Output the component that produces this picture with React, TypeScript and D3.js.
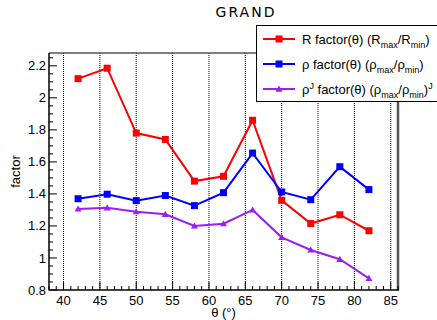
import React from "react";
import * as d3 from "d3";

// Scan angle (degrees) and the three factor series
const theta = [42, 46, 50, 54, 58, 62, 66, 70, 74, 78, 82];
const rFactor = [2.12, 2.185, 1.78, 1.74, 1.48, 1.51, 1.86, 1.36, 1.215, 1.27, 1.17];
const rhoFactor = [1.37, 1.398, 1.358, 1.39, 1.327, 1.408, 1.655, 1.412, 1.364, 1.57, 1.427];
const rhoJFactor = [1.306, 1.313, 1.289, 1.273, 1.2, 1.214, 1.3, 1.129, 1.05, 0.992, 0.873];

const xTicks = [40, 45, 50, 55, 60, 65, 70, 75, 80, 85];
const yTicks = [0.8, 1, 1.2, 1.4, 1.6, 1.8, 2, 2.2];

// Legend labels as [text, level] runs: 0 normal, -1 subscript, 1 superscript
const legendLabels: [string, number][][] = [
  [["R factor(θ) (R", 0], ["max", -1], ["/R", 0], ["min", -1], [")", 0]],
  [["ρ factor(θ) (ρ", 0], ["max", -1], ["/ρ", 0], ["min", -1], [")", 0]],
  [["ρ", 0], ["J", 1], [" factor(θ) (ρ", 0], ["max", -1], ["/ρ", 0], ["min", -1], [")", 0], ["J", 1]],
];

const W = 437;
const H = 320;
const frame = { left: 49, right: 398, top: 53, bottom: 290 };

const RED = "#ff0000";
const BLUE = "#0000ff";
const VIOLET = "#9a1ff5";
const FONT = "'Liberation Sans', Arial, sans-serif";

function RichText({ runs, x, y }: { runs: [string, number][]; x: number; y: number }) {
  let level = 0;
  return (
    <text x={x} y={y} fontSize={13} fill="#000">
      {runs.map(([t, lv], i) => {
        const off = (l: number) => (l === -1 ? 4 : l === 1 ? -5 : 0);
        const dy = off(lv) - off(level);
        level = lv;
        return (
          <tspan key={i} dy={dy} fontSize={lv === 0 ? 13 : 9}>
            {t}
          </tspan>
        );
      })}
    </text>
  );
}

export default function App() {
  const x = d3.scaleLinear().domain([38, 86]).range([frame.left, frame.right]);
  const y = d3.scaleLinear().domain([0.8, 2.28]).range([frame.bottom, frame.top]);

  const xMinor = d3.range(38, 87, 1).filter((v) => v % 5 !== 0);
  const yMinor = d3.range(0.8, 2.28, 0.05).filter((v) => Math.abs(Math.round(v * 5) - v * 5) > 1e-6);

  const line = d3
    .line<number>()
    .x((_, i) => x(theta[i]))
    .y((d) => y(d));

  const series = [
    { values: rFactor, color: RED, marker: "square" },
    { values: rhoFactor, color: BLUE, marker: "square" },
    { values: rhoJFactor, color: VIOLET, marker: "triangle" },
  ];

  const marker = (kind: string, cx: number, cy: number, color: string, key: string) => {
    if (kind === "square") {
      return <rect key={key} x={cx - 3.5} y={cy - 3.5} width={7} height={7} fill={color} />;
    }
    const s = 3.5;
    return (
      <path
        key={key}
        d={`M${cx},${cy - s} L${cx + s},${cy + s * 0.75} L${cx - s},${cy + s * 0.75} Z`}
        fill={color}
      />
    );
  };

  const legendRows = [
    { color: RED, marker: "square", y: 39 },
    { color: BLUE, marker: "square", y: 64 },
    { color: VIOLET, marker: "triangle", y: 89 },
  ];

  return (
    <svg
      width={W}
      height={H}
      style={{ position: "absolute", left: 0, top: 0, background: "#fff" }}
      fontFamily={FONT}
    >
      <rect x={0} y={0} width={W} height={H} fill="#fff" />

      {/* title */}
      <text
        x={246}
        y={17}
        textAnchor="middle"
        fontFamily="'DejaVu Sans', sans-serif"
        fontSize={14}
        letterSpacing={2}
        fill="#000"
      >
        GRAND
      </text>

      {/* vertical grid */}
      {xTicks.map((t) => (
        <line
          key={`g${t}`}
          x1={x(t)}
          x2={x(t)}
          y1={frame.top}
          y2={frame.bottom}
          stroke="#000"
          strokeWidth={1}
          strokeDasharray="1,1"
        />
      ))}

      {/* frame */}
      <line x1={frame.left} x2={frame.right} y1={frame.top} y2={frame.top} stroke="#555" strokeWidth={1.5} />
      <line x1={frame.right} x2={frame.right} y1={frame.top} y2={frame.bottom} stroke="#555" strokeWidth={2.5} />
      <line x1={frame.left} x2={frame.left} y1={frame.top} y2={frame.bottom + 0.5} stroke="#000" strokeWidth={1.5} />
      <line x1={frame.left} x2={frame.right + 1} y1={frame.bottom} y2={frame.bottom} stroke="#000" strokeWidth={1.5} />

      {/* y ticks */}
      {yTicks.map((t) => (
        <g key={`y${t}`}>
          <line x1={frame.left} x2={frame.left + 8} y1={y(t)} y2={y(t)} stroke="#000" strokeWidth={1} />
          <text x={46} y={y(t)} dy="0.35em" textAnchor="end" fontSize={13} fill="#000">
            {t}
          </text>
        </g>
      ))}
      {yMinor.map((t) => (
        <line key={`ym${t}`} x1={frame.left} x2={frame.left + 4} y1={y(t)} y2={y(t)} stroke="#000" strokeWidth={1} />
      ))}

      {/* x ticks */}
      {xTicks.map((t) => (
        <g key={`x${t}`}>
          <line x1={x(t)} x2={x(t)} y1={frame.bottom} y2={frame.bottom - 8} stroke="#000" strokeWidth={1} />
          <text x={x(t)} y={305} textAnchor="middle" fontSize={13} fill="#000">
            {t}
          </text>
        </g>
      ))}
      {xMinor.map((t) => (
        <line key={`xm${t}`} x1={x(t)} x2={x(t)} y1={frame.bottom} y2={frame.bottom - 4} stroke="#000" strokeWidth={1} />
      ))}

      {/* axis titles */}
      <text
        transform={`translate(20,${(frame.top + frame.bottom) / 2}) rotate(-90)`}
        textAnchor="middle"
        fontSize={13}
        fill="#000"
      >
        factor
      </text>
      <text x={(frame.left + frame.right) / 2} y={317} textAnchor="middle" fontSize={13} fill="#000">
        θ (°)
      </text>

      {/* series */}
      {series.map((s, si) => (
        <g key={`s${si}`}>
          <path d={line(s.values) || ""} fill="none" stroke={s.color} strokeWidth={2} />
          {s.values.map((v, i) => marker(s.marker, x(theta[i]), y(v), s.color, `m${si}-${i}`))}
        </g>
      ))}

      {/* legend */}
      <rect x={256.5} y={25.5} width={200} height={76} fill="#fff" stroke="#000" strokeWidth={1} />
      {legendRows.map((r, i) => (
        <g key={`l${i}`}>
          <line x1={263} x2={295} y1={r.y} y2={r.y} stroke={r.color} strokeWidth={2} />
          {marker(r.marker, 279, r.y, r.color, `lm${i}`)}
          <RichText runs={legendLabels[i]} x={302} y={r.y + 5} />
        </g>
      ))}
    </svg>
  );
}
